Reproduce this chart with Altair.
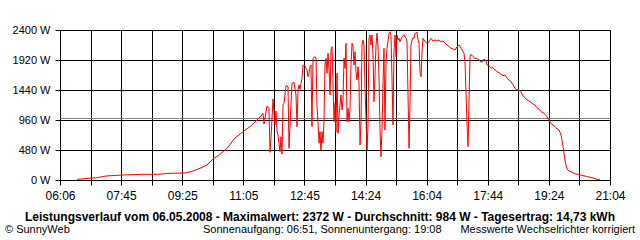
import altair as alt
import pandas as pd

# ---- data (time in minutes of day, power in W) ----
t_morning = [393.8, 410.1, 426.4, 441.1, 468.9, 499.9, 529.3, 545.6, 570.1, 583.2, 594.6, 606.0, 615.8,
             627.2, 638.7, 651.7, 664.8, 676.2, 687.7, 695.8, 697.4]
w_morning = [10, 27, 37, 64, 80, 91, 93, 107, 112, 144, 187, 240, 336,
             411, 507, 672, 773, 853, 960, 1040, 1067]

t_noon1 = [699.1, 700.7, 704.0, 707.2, 708.9, 710.5, 713.8, 717.0, 718.7, 720.3, 721.9, 725.2, 726.8, 728.5,
           730.1, 731.7, 735.0, 738.3, 739.9, 741.5, 744.8, 748.1, 751.3, 753.0, 754.6, 756.2, 757.9, 759.5,
           761.1, 762.8]
w_noon1 = [896, 992, 1184, 1147, 443, 667, 1296, 880, 1104, 773, 720, 453, 693, 416,
           1200, 1227, 1509, 1493, 507, 880, 1547, 1563, 1360, 853, 1440, 1520, 1451, 1547,
           1627, 1840]

t_noon2 = [766.0, 769.3, 770.9, 772.5, 774.2, 775.8, 777.4, 779.1, 782.3, 784.0, 785.6, 787.2, 788.9, 790.5,
           792.1, 793.8, 795.4, 797.0, 798.7, 800.3, 802.0, 803.6, 805.2, 806.9, 808.5, 810.1, 811.8, 813.4,
           815.0, 816.6, 818.3, 819.9, 821.6, 824.8, 826.5, 828.1, 829.7]
w_noon2 = [1824, 1760, 1653, 1707, 1813, 1840, 853, 1947, 1973, 1947, 1173, 933, 587, 773,
           480, 773, 587, 933, 1840, 1947, 1707, 2027, 1787, 1360, 2080, 2133, 1520, 933,
           1227, 773, 1707, 747, 1040, 1360, 1120, 1280, 1947]

t_noon3 = [831.4, 833.0, 834.6, 836.3, 837.9, 839.5, 841.1, 842.8, 844.4, 846.0, 847.7, 849.3, 851.0, 852.6,
           854.2, 855.9, 857.5, 859.1, 860.7, 862.4, 864.0, 865.6, 867.3, 868.9, 870.5, 872.2, 873.8, 875.4,
           877.1, 878.7, 880.3, 882.0, 883.6, 885.2, 886.9, 888.5, 890.1, 891.7, 893.4, 895.0, 896.6, 898.3]
w_noon3 = [1787, 2187, 933, 1147, 933, 1147, 1840, 2187, 2133, 1840, 2053, 1733, 1600, 1813,
           1547, 560, 933, 2160, 2240, 2160, 1467, 987, 480, 880, 2267, 2320, 2160, 2320,
           2000, 1253, 1680, 2160, 2347, 2133, 1627, 800, 373, 800, 1547, 2107, 800, 1893]

t_after1 = [899.9, 903.2, 904.8, 906.4, 908.1, 909.7, 911.3, 913.0, 914.6, 916.3, 917.9, 919.5, 921.1, 924.4,
            927.7, 931.0, 932.6, 934.2, 935.9, 937.5, 939.1, 940.8, 942.4, 944.0, 945.7, 948.9, 950.6, 952.2,
            953.8, 955.5, 957.1, 958.7, 960.4, 962.0, 965.2, 968.5, 971.8, 975.0, 978.3, 981.6, 984.8, 988.1,
            991.4, 994.6, 997.9, 1001.2, 1004.4, 1007.7, 1011.0, 1014.2, 1017.5, 1020.8, 1024.0, 1025.6,
            1027.3, 1028.9, 1030.6, 1032.2, 1033.8]
w_after1 = [2107, 2347, 2372, 2320, 1600, 880, 2053, 2320, 1973, 2320, 2240, 2267, 2213, 2293,
            2320, 2267, 2213, 1360, 507, 1253, 2160, 2240, 2277, 2267, 2347, 2363, 2240, 2187,
            1733, 1653, 2053, 2267, 2240, 2213, 2187, 2213, 2267, 2224, 2240, 2224, 2240, 2213,
            2224, 2187, 2160, 2133, 2107, 2096, 2080, 2133, 2160, 2107, 2053, 2027,
            1893, 1392, 880, 533, 1253]

t_evening = [1035.5, 1037.1, 1040.4, 1043.6, 1046.9, 1050.2, 1053.4, 1056.7, 1058.3, 1061.6, 1063.2, 1066.5,
             1069.8, 1073.0, 1076.3, 1079.6, 1082.8, 1086.1, 1089.3, 1092.6, 1095.9, 1099.1, 1102.4, 1105.7,
             1108.9, 1112.2, 1115.4, 1118.7, 1122.0, 1125.2, 1128.5, 1131.8, 1135.0, 1138.3, 1141.6, 1144.8,
             1148.1, 1151.4, 1154.6, 1157.9, 1161.1, 1162.8, 1164.4, 1166.0, 1167.7, 1170.9, 1174.2, 1177.5,
             1180.7, 1182.4, 1184.0, 1185.6, 1187.3, 1188.9, 1190.5, 1192.2, 1193.8, 1197.1, 1200.4, 1203.6,
             1206.9, 1211.8, 1218.3, 1224.9, 1231.4, 1237.9, 1242.8, 1247.7]
w_evening = [1973, 2011, 1973, 1947, 1947, 1920, 1883, 1904, 1936, 1904, 1840, 1829,
             1787, 1797, 1760, 1733, 1717, 1691, 1669, 1680, 1627, 1600, 1573, 1520,
             1467, 1440, 1440, 1413, 1344, 1317, 1280, 1264, 1243, 1216, 1200, 1157,
             1136, 1093, 1077, 1051, 1013, 976, 976, 933, 901, 880, 853, 816,
             800, 763, 720, 640, 533, 427, 320, 240, 176, 144, 133, 117,
             101, 91, 75, 59, 43, 27, 11, 11]

avg_w = 984

x_start, x_end, n_div = 366, 1264, 18
x_tick_labels = ["06:06", "07:45", "09:25", "11:05", "12:45", "14:24", "16:04", "17:44", "19:24", "21:04"]
y_ticks = [0, 480, 960, 1440, 1920, 2400]

title_text = "Leistungsverlauf vom 06.05.2008 - Maximalwert: 2372 W - Durchschnitt: 984 W - Tagesertrag: 14,73 kWh"
foot_left = "© SunnyWeb"
foot_mid = "Sonnenaufgang: 06:51, Sonnenuntergang: 19:08"
foot_right = "Messwerte Wechselrichter korrigiert"

# ---- build ----
df = pd.DataFrame({
    "t": t_morning + t_noon1 + t_noon2 + t_noon3 + t_after1 + t_evening,
    "w": w_morning + w_noon1 + w_noon2 + w_noon3 + w_after1 + w_evening,
})

step = (x_end - x_start) / n_div
x_grid = [round(x_start + i * step, 4) for i in range(n_div + 1)]
lab = [x_tick_labels[i // 2] if i % 2 == 0 else "" for i in range(n_div + 1)]
label_expr = "[" + ",".join("'%s'" % s for s in lab) + "][round((datum.value - %s) / %s)]" % (x_start, step)

FONT = "Liberation Sans"

x_axis = alt.Axis(values=x_grid, labelExpr=label_expr, title=None, grid=True, gridColor="black",
                  gridOpacity=1, gridWidth=1, tickColor="black", tickSize=5, tickWidth=1, domain=False,
                  labelFont=FONT, labelFontSize=12, labelColor="black", labelPadding=5,
                  labelFlush=False, labelOverlap=False)
y_axis = alt.Axis(values=y_ticks, labelExpr="datum.value + ' W'", title=None, grid=True, gridColor="black",
                  gridOpacity=1, gridWidth=1, tickColor="black", tickSize=5, tickWidth=1, domain=False,
                  labelFont=FONT, labelFontSize=11, labelColor="black", labelPadding=5,
                  labelFlush=False, labelOverlap=False)
x_scale = alt.Scale(domain=[x_start, x_end], nice=False, zero=False)
y_scale = alt.Scale(domain=[0, 2400], nice=False)

avg_rule = alt.Chart(pd.DataFrame({"w": [avg_w]})).mark_rule(color="#808080", strokeWidth=1).encode(
    y=alt.Y("w:Q", scale=y_scale, axis=y_axis)
)

line = alt.Chart(df).mark_line(color="#ff0000", strokeWidth=1, interpolate="linear").encode(
    x=alt.X("t:Q", scale=x_scale, axis=x_axis),
    y=alt.Y("w:Q", scale=y_scale, axis=y_axis),
)

def txt(s, x, y, align="left", weight="normal", size=11):
    return alt.Chart(pd.DataFrame({"s": [s]})).mark_text(
        align=align, baseline="alphabetic", font=FONT, fontSize=size, fontWeight=weight, color="black"
    ).encode(text="s:N", x=alt.value(x), y=alt.value(y))

chart = alt.layer(
    avg_rule,
    line,
    txt(title_text, 260, 191, align="center", weight="bold", size=12),
    txt(foot_left, -55, 203),
    txt(foot_mid, 143, 203),
    txt(foot_right, 575, 203, align="right"),
).properties(
    width=550, height=150, autosize="none",
    padding={"left": 60, "top": 30, "right": 30, "bottom": 60},
    background="white",
).configure_view(stroke="black", strokeWidth=1)

chart.save("out.html", embed_options={"renderer": "svg", "actions": False})
